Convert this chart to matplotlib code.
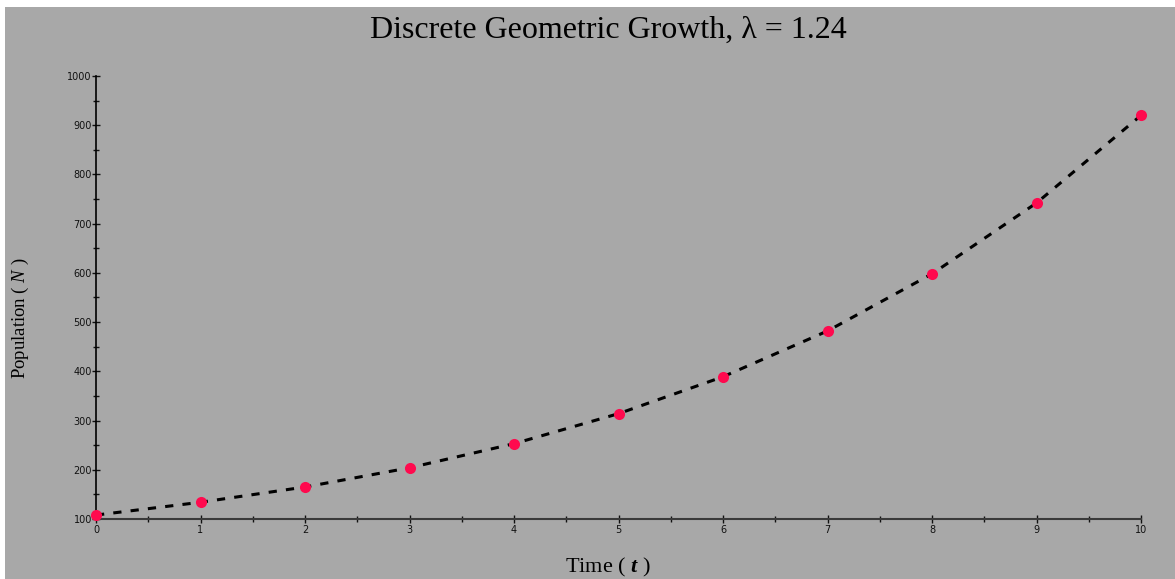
import matplotlib
matplotlib.use("Agg")
import matplotlib.pyplot as plt
from matplotlib.patches import Rectangle
from matplotlib.ticker import MultipleLocator

# Discrete geometric growth, lambda = 1.24
time_steps = [0, 1, 2, 3, 4, 5, 6, 7, 8, 9, 10]
population = [108, 134, 165, 204, 253, 314, 389, 482, 598, 742, 920]
x_ticks = [0, 1, 2, 3, 4, 5, 6, 7, 8, 9, 10]
y_ticks = [100, 200, 300, 400, 500, 600, 700, 800, 900, 1000]

plt.rcParams['mathtext.fontset'] = 'custom'
plt.rcParams['mathtext.rm'] = 'Liberation Serif'
plt.rcParams['mathtext.it'] = 'Liberation Serif:italic'
plt.rcParams['mathtext.bf'] = 'Liberation Serif:bold'
plt.rcParams['mathtext.bfit'] = 'Liberation Serif:italic:bold'

W, H = 1175, 579
fig = plt.figure(figsize=(W / 100, H / 100), dpi=100, facecolor='white')
bg = '#a8a8a8'
fig.patches.append(Rectangle((5 / W, 0), 1 - 5 / W, 1 - 7 / H,
                             transform=fig.transFigure, facecolor=bg,
                             edgecolor='none', zorder=-10))

ax = fig.add_axes([96 / W, 60 / H, (1141 - 96) / W, (519 - 76) / H])
ax.set_facecolor('none')

ax.plot(time_steps, population, color='black', lw=2.2,
        linestyle=(0, (2.7, 3.0)), zorder=2)
ax.plot(time_steps, population, 'o', color='#ff0a4e', ms=8,
        markeredgewidth=0, zorder=3, clip_on=False)

ax.set_xlim(0, 10)
ax.set_ylim(100, 1000)
ax.set_xticks(x_ticks)
ax.set_yticks(y_ticks)
ax.xaxis.set_minor_locator(MultipleLocator(0.5))
ax.yaxis.set_minor_locator(MultipleLocator(50))

for s in ('top', 'right'):
    ax.spines[s].set_visible(False)
ax.spines['left'].set_color('black')
ax.spines['bottom'].set_color('#3a3a3a')
ax.spines['left'].set_linewidth(1.2)
ax.spines['bottom'].set_linewidth(1.5)

ax.tick_params(axis='both', which='major', direction='inout', length=6,
               width=1, colors='#111111', labelsize=7, pad=1)
ax.tick_params(axis='both', which='minor', direction='inout', length=5,
               width=1, colors='#111111')
ax.tick_params(axis='y', pad=0)

fig.text(608 / W, 1 - 30 / H, 'Discrete Geometric Growth, \u03bb = 1.24',
         ha='center', va='center', fontsize=23, family='Liberation Serif')
fig.text(608 / W, 1 - 567 / H, r'Time ( $\mathbfit{t}$ )',
         ha='center', va='center', fontsize=16, family='Liberation Serif')
fig.text(20 / W, 1 - 318 / H, r'Population ( $\mathit{N}$ )',
         ha='center', va='center', fontsize=13.5, rotation=90,
         family='Liberation Serif')

fig.savefig('out.png', dpi=100, facecolor=fig.get_facecolor())
